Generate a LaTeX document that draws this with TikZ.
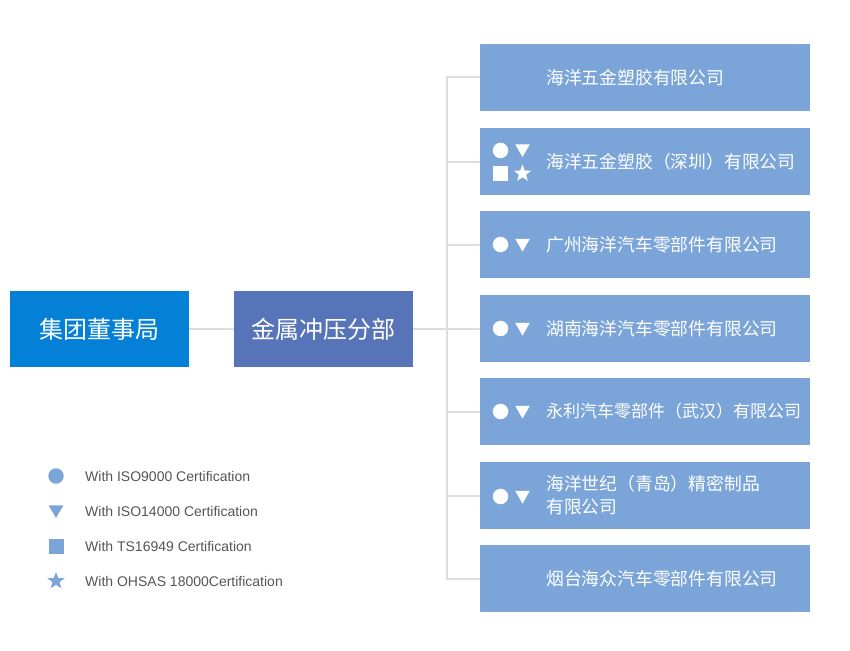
\documentclass[tikz,border=0pt]{standalone}
\usepackage{fontspec}
\setmainfont{Liberation Sans}
\newfontfamily\cjk{Noto Sans CJK SC}
\usetikzlibrary{shapes.geometric}
\definecolor{boardblue}{RGB}{4,128,214}
\definecolor{divblue}{RGB}{88,116,184}
\definecolor{compblue}{RGB}{123,165,216}
\definecolor{linegray}{RGB}{221,221,221}
\definecolor{legtext}{RGB}{85,85,85}
\tikzset{
  topbox/.style={draw=none, minimum width=179pt, minimum height=76pt, inner sep=0pt, text=white, font=\cjk\fontsize{24}{28}\selectfont},
  compbox/.style={fill=compblue, draw=none, minimum width=330pt, minimum height=67pt, inner sep=0pt, anchor=west},
  comptext/.style={anchor=west, inner sep=0pt, text=white, font=\cjk\fontsize{17.8}{23}\selectfont, align=left},
  conn/.style={draw=linegray, line width=2pt},
  icirc/.style={circle, inner sep=0pt, minimum size=15.5pt},
  itri/.style={regular polygon, regular polygon sides=3, shape border rotate=180, inner sep=0pt, minimum size=17pt},
  isq/.style={rectangle, inner sep=0pt, minimum size=15pt},
  istar/.style={star, star points=5, star point ratio=2.4, inner sep=0pt, minimum size=18pt},
  legtxt/.style={anchor=west, inner sep=0pt, text=legtext, font=\fontsize{14}{16}\selectfont},
}
\begin{document}
\begin{tikzpicture}[x=1pt,y=-1pt]
\useasboundingbox (0,0) rectangle (850,650);
% top boxes
\node[topbox, fill=boardblue] (board) at (99.5,329) {集团董事局};
\node[topbox, fill=divblue] (div) at (323.5,329) {金属冲压分部};
% company boxes
\node[compbox] (c1) at (480,77.5) {};
\node[compbox] (c2) at (480,161.5) {};
\node[compbox] (c3) at (480,244.5) {};
\node[compbox] (c4) at (480,328.5) {};
\node[compbox] (c5) at (480,411.5) {};
\node[compbox] (c6) at (480,495.5) {};
\node[compbox] (c7) at (480,578.5) {};
% connectors
\coordinate (bus) at (447,329);
\coordinate (btop) at (447,76.5);
\coordinate (bbot) at (447,579.5);
\draw[conn] (board.east) -- (div.west);
\draw[conn] (div.east) -- (bus);
\draw[conn] (btop) -- (bbot);
\foreach \i in {1,...,7}{
  \draw[conn] (c\i.west -| bus) -- (c\i.west);
}
% company texts
\node[comptext] (t1) at ([xshift=66pt]c1.west) {海洋五金塑胶有限公司};
\node[comptext] (t2) at ([xshift=66pt]c2.west) {海洋五金塑胶（深圳）有限公司};
\node[comptext] (t3) at ([xshift=66pt]c3.west) {广州海洋汽车零部件有限公司};
\node[comptext] (t4) at ([xshift=66pt]c4.west) {湖南海洋汽车零部件有限公司};
\node[comptext, font=\cjk\fontsize{17}{22}\selectfont] (t5) at ([xshift=66pt]c5.west) {永利汽车零部件（武汉）有限公司};
\node[comptext] (t6) at ([xshift=66pt]c6.west) {海洋世纪（青岛）精密制品\\有限公司};
\node[comptext] (t7) at ([xshift=66pt]c7.west) {烟台海众汽车零部件有限公司};
% icons in boxes
\node[icirc, fill=white] (c2a) at (500.5,150.5) {};
\node[itri, fill=white] (c2b) at (522.5,148.5) {};
\node[isq, fill=white] (c2c) at (500.5,173.5) {};
\node[istar, fill=white] (c2d) at (522.5,173.5) {};
\foreach \i/\y in {3/244.5,4/328.5,5/411.5,6/496.5}{
  \node[icirc, fill=white] (c\i a) at (500.5,\y) {};
  \node[itri, fill=white] (c\i b) at (522.5,\y-1.5) {};
}
% legend
\node[icirc, fill=compblue] (l1) at (56,476) {};
\node[itri, fill=compblue] (l2) at (56,509.5) {};
\node[isq, fill=compblue] (l3) at (56,546) {};
\node[istar, fill=compblue] (l4) at (56,581) {};
\node[legtxt] (lt1) at (85,476) {With ISO9000 Certification};
\node[legtxt] (lt2) at (85,511) {With ISO14000 Certification};
\node[legtxt] (lt3) at (85,546) {With TS16949 Certification};
\node[legtxt] (lt4) at (85,581) {With OHSAS 18000Certification};
\end{tikzpicture}
\end{document}
